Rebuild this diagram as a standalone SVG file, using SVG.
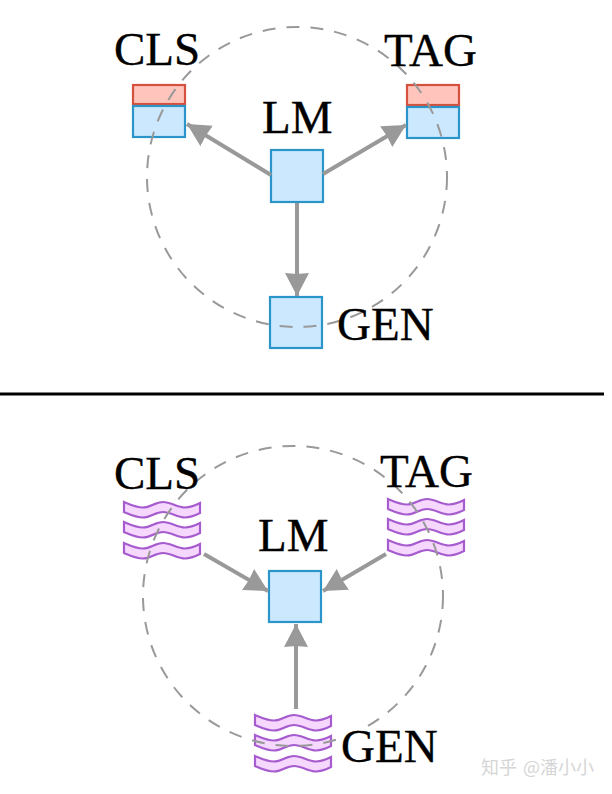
<svg xmlns="http://www.w3.org/2000/svg" width="612" height="794" viewBox="0 0 612 794">
  <style>
    .lbl { font-family: "Liberation Serif", "Times New Roman", serif; font-size: 47px; fill: #000; stroke: #000; stroke-width: 0.35; }
    .blue { fill: #cce8ff; stroke: #2b95c9; stroke-width: 2.2; }
    .red { fill: #ffc5bd; stroke: #d4513d; stroke-width: 2.2; }
    .wave { fill: #f6d8ff; stroke: #a65cce; stroke-width: 2.2; }
    .ring { fill: none; stroke: #999; stroke-width: 2; stroke-dasharray: 13 11; }
    .conn { fill: none; stroke: #999; stroke-width: 4; marker-end: url(#head); }
    .mark { font-family: "Noto Sans CJK SC", "Liberation Sans", sans-serif; font-size: 18px; fill: #d6d6d6; word-spacing: 2px; }
  </style>
  <defs>
    <marker id="head" markerUnits="userSpaceOnUse" markerWidth="26" markerHeight="26" refX="23" refY="12" orient="auto">
      <path d="M0,0 L23,12 L0,24 L1,12 Z" fill="#999"/>
    </marker>
    <path id="ribbon" d="M0,0 C6,2.5 12,5.5 19,5.5 C27,5.5 31,0 39,0 C47,0 53,5.5 61,5.5 C67,5.5 72,3 76,1 V11 C72,13 67,15.5 61,15.5 C53,15.5 47,10 39,10 C31,10 27,15.5 19,15.5 C12,15.5 6,12.5 0,10 Z"/>
    <g id="stack">
      <use href="#ribbon" class="wave"/>
      <use href="#ribbon" class="wave" y="20"/>
      <use href="#ribbon" class="wave" y="41"/>
    </g>
  </defs>

  <rect width="612" height="794" fill="#fff"/>

  <!-- upper arrangement: shared model with three output heads -->
  <g id="top-lm"><rect class="blue" x="271" y="150" width="52" height="52"/></g>
  <g id="top-cls">
    <rect class="red" x="133" y="85" width="52" height="19"/>
    <rect class="blue" x="133" y="106" width="52" height="31"/>
  </g>
  <g id="top-tag">
    <rect class="red" x="407" y="85" width="52" height="20"/>
    <rect class="blue" x="407" y="107" width="52" height="31"/>
  </g>
  <g id="top-gen"><rect class="blue" x="270" y="297" width="52" height="51"/></g>

  <!-- lower arrangement: three data sources feeding one model -->
  <g id="bottom-lm"><rect class="blue" x="269" y="571" width="52" height="51"/></g>
  <g id="bottom-cls"><use href="#stack" x="124" y="502"/></g>
  <g id="bottom-tag"><use href="#stack" x="388" y="499"/></g>
  <g id="bottom-gen"><use href="#stack" x="255" y="715"/></g>

  <g id="rings">
    <circle class="ring" cx="297" cy="177" r="150"/>
    <circle class="ring" cx="293" cy="596" r="150"/>
  </g>

  <g id="connectors">
    <path class="conn" d="M271,175 L187,124"/>
    <path class="conn" d="M323,174 L406,125"/>
    <path class="conn" d="M297,203 L297,296"/>
    <path class="conn" d="M204,554 L268,591"/>
    <path class="conn" d="M386,554 L323,591"/>
    <path class="conn" d="M296,709 L296,624"/>
  </g>

  <line id="divider" x1="0" y1="394" x2="604" y2="394" stroke="#000" stroke-width="3"/>

  <g id="labels">
    <text class="lbl" x="114" y="65">CLS</text>
    <text class="lbl" x="384" y="66">TAG</text>
    <text class="lbl" x="262" y="133">LM</text>
    <text class="lbl" x="337" y="340">GEN</text>
    <text class="lbl" x="114" y="489">CLS</text>
    <text class="lbl" x="380" y="487">TAG</text>
    <text class="lbl" x="258" y="551">LM</text>
    <text class="lbl" x="341" y="762">GEN</text>
  </g>

  <text class="mark" x="481" y="774">知乎 @潘小小</text>
</svg>
